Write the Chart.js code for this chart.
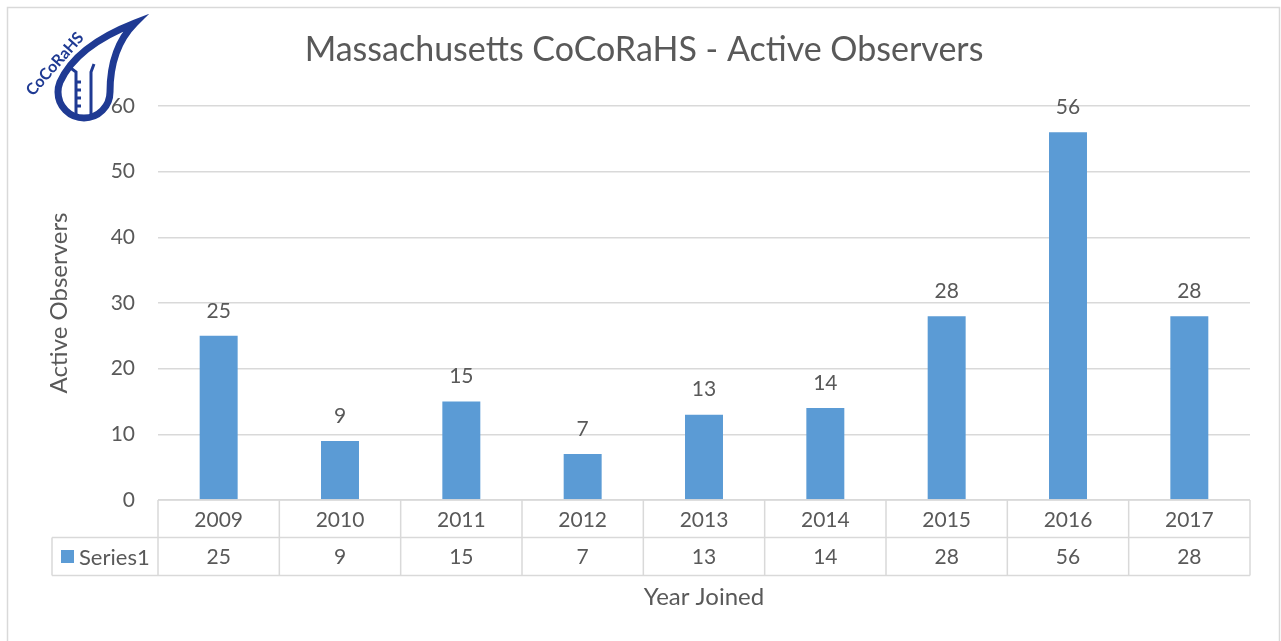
<!DOCTYPE html>
<html>
<head>
<meta charset="utf-8">
<script src="https://cdn.jsdelivr.net/npm/chart.js@4.4.0/dist/chart.umd.min.js"></script>
<style>
  html, body { margin: 0; padding: 0; background: #fff; }
  #wrap { width: 1281px; height: 641px; position: relative; }
</style>
</head>
<body>
<div id="wrap"><canvas id="chart" width="1281" height="641"></canvas></div>
<script>
const years = ['2009', '2010', '2011', '2012', '2013', '2014', '2015', '2016', '2017'];
const observers = [25, 9, 15, 7, 13, 14, 28, 56, 28];
const seriesName = 'Series1';
const chartTitle = 'Massachusetts CoCoRaHS - Active Observers';
const xTitle = 'Year Joined';
const yTitle = 'Active Observers';

const FONT = 'Lato';
const TEXT = '#595959';
const LINE = '#d9d9d9';
const BAR = '#5b9bd5';

// draws the logo, title, data labels and the data table under the plot
const excelBits = {
  id: 'excelBits',
  beforeDraw(chart) {
    const ctx = chart.ctx;
    ctx.save();
    ctx.fillStyle = '#fff';
    ctx.fillRect(0, 0, chart.width, chart.height);
    ctx.strokeStyle = LINE;
    ctx.lineWidth = 1.5;
    ctx.strokeRect(7.5, 7.5, 1272, 700);
    ctx.restore();
  },
  afterDraw(chart) {
    const ctx = chart.ctx;
    const x = chart.scales.x;
    const area = chart.chartArea;
    const meta = chart.getDatasetMeta(0);
    ctx.save();

    // title
    ctx.fillStyle = TEXT;
    ctx.textAlign = 'center';
    ctx.textBaseline = 'middle';
    ctx.font = '34px ' + FONT;
    ctx.fillText(chartTitle, 644, 50);

    // value labels on top of bars
    ctx.font = '21px ' + FONT;
    meta.data.forEach((bar, i) => {
      ctx.fillText(String(observers[i]), bar.x, bar.y - 25);
    });

    // data table
    const colW = (area.right - area.left) / years.length;
    const r0 = area.bottom, r1 = r0 + 37.5, r2 = r1 + 38;
    const legL = 52;
    ctx.strokeStyle = LINE;
    ctx.lineWidth = 1.5;
    ctx.beginPath();
    ctx.moveTo(area.left, r0); ctx.lineTo(area.right, r0);
    ctx.moveTo(legL, r1); ctx.lineTo(area.right, r1);
    ctx.moveTo(legL, r2); ctx.lineTo(area.right, r2);
    ctx.moveTo(legL, r1); ctx.lineTo(legL, r2);
    for (let i = 0; i <= years.length; i++) {
      const cx = area.left + i * colW;
      ctx.moveTo(cx, r0); ctx.lineTo(cx, r2);
    }
    ctx.stroke();

    ctx.fillStyle = TEXT;
    years.forEach((y, i) => {
      const cx = x.getPixelForValue(i);
      ctx.fillText(y, cx, (r0 + r1) / 2 + 1);
      ctx.fillText(String(observers[i]), cx, (r1 + r2) / 2 + 1);
    });
    ctx.fillStyle = BAR;
    ctx.fillRect(61, 550, 13, 13);
    ctx.fillStyle = TEXT;
    ctx.textAlign = 'left';
    ctx.font = '22px ' + FONT;
    ctx.fillText(seriesName, 79, (r1 + r2) / 2 + 1);

    // x axis title
    ctx.textAlign = 'center';
    ctx.font = '24px ' + FONT;
    ctx.fillText(xTitle, (area.left + area.right) / 2, 597);

    drawLogo(ctx);
    ctx.restore();
  }
};

function drawLogo(ctx) {
  const blue = '#1f3a93';
  ctx.save();
  ctx.beginPath();
  ctx.moveTo(135, 23);
  ctx.quadraticCurveTo(110, 48, 110, 92);
  ctx.arc(84, 92, 26, 0, Math.PI * 1.12);
  ctx.quadraticCurveTo(76, 46, 135, 23);
  ctx.closePath();
  ctx.fillStyle = '#fff';
  ctx.fill();
  ctx.lineWidth = 7;
  ctx.strokeStyle = blue;
  ctx.stroke();
  // inner cylinder
  ctx.lineWidth = 3;
  ctx.beginPath();
  ctx.moveTo(68, 66); ctx.lineTo(76, 72); ctx.lineTo(76, 117);
  ctx.moveTo(94, 64); ctx.lineTo(91, 72); ctx.lineTo(91, 117);
  for (let k = 0; k < 4; k++) { ctx.moveTo(76, 82 + k * 8); ctx.lineTo(81, 82 + k * 8); }
  ctx.stroke();
  ctx.translate(55, 64);
  ctx.rotate(-0.85);
  ctx.fillStyle = blue;
  ctx.font = 'bold 16px ' + FONT;
  ctx.textAlign = 'center';
  ctx.textBaseline = 'middle';
  ctx.fillText('CoCoRaHS', 0, 0);
  ctx.restore();
}

new Chart(document.getElementById('chart'), {
  type: 'bar',
  data: {
    labels: years,
    datasets: [{
      label: seriesName,
      data: observers,
      backgroundColor: BAR,
      categoryPercentage: 1,
      barPercentage: 0.313
    }]
  },
  options: {
    responsive: false,
    animation: false,
    layout: { padding: { top: 106, right: 31, bottom: 141, left: 0 } },
    plugins: { legend: { display: false }, tooltip: { enabled: false } },
    scales: {
      x: { display: false },
      y: {
        min: 0, max: 60,
        ticks: { stepSize: 10, color: TEXT, font: { family: FONT, size: 21 }, padding: 23 },
        grid: { color: LINE, lineWidth: 1.5, drawTicks: false },
        border: { display: false },
        title: { display: true, text: yTitle, color: TEXT, font: { family: FONT, size: 24 }, padding: { top: 45 } },
        afterFit(scale) { scale.width = 158; }
      }
    }
  },
  plugins: [excelBits]
});
</script>
</body>
</html>
